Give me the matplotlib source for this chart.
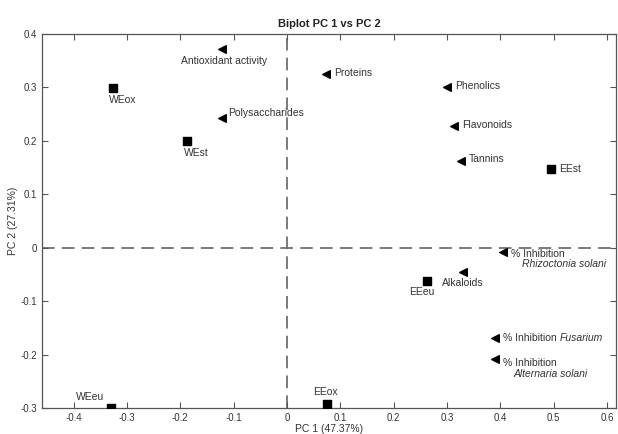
import matplotlib
matplotlib.use("Agg")
import matplotlib.pyplot as plt
from matplotlib.ticker import FuncFormatter

plt.rcParams['font.family'] = ['Liberation Sans', 'DejaVu Sans']
plt.rcParams['axes.unicode_minus'] = False

# samples (scores)
sample_names = ["WEox", "WEst", "WEeu", "EEox", "EEst", "EEeu"]
sample_x = [-0.326, -0.188, -0.330, 0.075, 0.495, 0.262]
sample_y = [0.298, 0.200, -0.300, -0.292, 0.148, -0.062]

# variables (loadings)
var_names = ["Antioxidant activity", "Proteins", "Phenolics", "Polysaccharides",
             "Flavonoids", "Tannins", "Rhizoctonia", "Alkaloids", "Fusarium", "Alternaria"]
var_x = [-0.122, 0.073, 0.300, -0.122, 0.313, 0.326, 0.405, 0.330, 0.390, 0.390]
var_y = [0.371, 0.324, 0.301, 0.243, 0.228, 0.163, -0.009, -0.045, -0.170, -0.208]

fig = plt.figure(figsize=(6.18, 4.34), dpi=100)
ax = fig.add_axes([0.068, 0.060, 0.929, 0.862])

ax.axvline(0, color="#707070", lw=1.3, dashes=(7, 4), zorder=1)
ax.axhline(0, color="#707070", lw=1.3, dashes=(7, 4), zorder=1)

ax.scatter(sample_x, sample_y, marker="s", s=32, color="black", zorder=3)
ax.scatter(var_x, var_y, marker="<", s=30, color="black", zorder=3)

tc = "#333333"
fs = 7.5
# sample labels: (dx, dy, ha, va)
s_off = {
    "WEox": (-0.008, -0.012, "left", "top"),
    "WEst": (-0.005, -0.014, "left", "top"),
    "WEeu": (-0.012, 0.012, "right", "bottom"),
    "EEox": (-0.002, 0.012, "center", "bottom"),
    "EEst": (0.015, 0.0, "left", "center"),
    "EEeu": (-0.01, -0.012, "center", "top"),
}
for n, x, y in zip(sample_names, sample_x, sample_y):
    dx, dy, ha, va = s_off[n]
    ax.text(x + dx, y + dy, n, ha=ha, va=va, fontsize=fs, color=tc)

v_off = {
    "Antioxidant activity": (0.005, -0.012, "center", "top"),
    "Proteins": (0.015, 0.002, "left", "center"),
    "Phenolics": (0.015, 0.002, "left", "center"),
    "Polysaccharides": (0.012, 0.008, "left", "center"),
    "Flavonoids": (0.015, 0.002, "left", "center"),
    "Tannins": (0.015, 0.002, "left", "center"),
    "Alkaloids": (0.0, -0.012, "center", "top"),
}
for n, x, y in zip(var_names, var_x, var_y):
    if n in v_off:
        dx, dy, ha, va = v_off[n]
        ax.text(x + dx, y + dy, n, ha=ha, va=va, fontsize=fs, color=tc)

# inhibition labels with italic species
r = var_names.index("Rhizoctonia")
ax.text(var_x[r] + 0.015, var_y[r] - 0.002, "% Inhibition", ha="left", va="center", fontsize=fs, color=tc)
ax.text(var_x[r] + 0.035, var_y[r] - 0.022, "Rhizoctonia solani", ha="left", va="center",
        fontsize=fs, color=tc, style="italic")
f = var_names.index("Fusarium")
ax.text(var_x[f] + 0.015, var_y[f], "% Inhibition", ha="left", va="center",
        fontsize=fs, color=tc)
ax.text(var_x[f] + 0.122, var_y[f], "Fusarium", ha="left", va="center",
        fontsize=fs, color=tc, style="italic")
a = var_names.index("Alternaria")
ax.text(var_x[a] + 0.015, var_y[a] - 0.007, "% Inhibition", ha="left", va="center", fontsize=fs, color=tc)
ax.text(var_x[a] + 0.034, var_y[a] - 0.028, "Alternaria solani", ha="left", va="center",
        fontsize=fs, color=tc, style="italic")

ax.set_xlim(-0.459, 0.617)
ax.set_ylim(-0.3, 0.4)
ax.set_xticks([-0.4, -0.3, -0.2, -0.1, 0, 0.1, 0.2, 0.3, 0.4, 0.5, 0.6])
ax.set_yticks([-0.3, -0.2, -0.1, 0, 0.1, 0.2, 0.3, 0.4])
fmt = FuncFormatter(lambda v, p: "%g" % round(v, 2))
ax.xaxis.set_major_formatter(fmt)
ax.yaxis.set_major_formatter(fmt)
ax.tick_params(direction="in", top=True, right=True, length=4, width=0.8,
               labelsize=7, colors="#555555", labelcolor=tc)
for sp in ax.spines.values():
    sp.set_color("#555555")
    sp.set_linewidth(0.9)

ax.set_title("Biplot PC 1 vs PC 2", fontsize=8, fontweight="bold", color="#222222", pad=5)
ax.set_xlabel("PC 1 (47.37%)", fontsize=7.5, color=tc, labelpad=1)
ax.set_ylabel("PC 2 (27.31%)", fontsize=7.5, color=tc, labelpad=2)

fig.savefig("out.png", dpi=100)
